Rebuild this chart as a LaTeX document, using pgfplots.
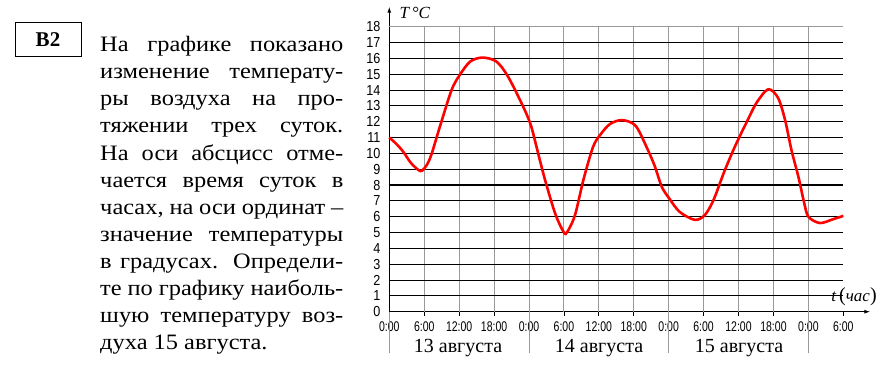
\documentclass[border=0pt]{standalone}
\usepackage{fontspec}
\setmainfont{Liberation Serif}
\newfontfamily\tnr{Liberation Serif}
\newfontfamily\arial{Liberation Sans}
\usepackage{pgfplots}
\pgfplotsset{compat=1.18}
\usetikzlibrary{arrows.meta}
\pgfplotstableread{
h T
0 11.0
1.2 10.6
2.4 10.1
3.7 9.4
5.0 8.95
5.6 8.9
6.5 9.3
7.3 10.0
8.7 11.7
10.7 14.0
12.1 14.95
13.9 15.8
16.0 16.05
18.4 15.8
20.4 14.85
23.0 12.95
24.3 11.8
25.3 10.4
26.7 8.4
28.5 6.2
30.0 5.0
30.6 5.05
31.9 6.1
33.4 8.4
35.0 10.4
36.2 11.15
37.9 11.85
40.0 12.1
42.3 11.75
44.2 10.4
45.6 9.2
46.8 7.9
48.1 7.15
49.9 6.3
52.5 5.8
54.2 6.1
55.7 7.05
57.5 8.8
59.1 10.2
60.3 11.15
61.7 12.2
63.1 13.2
65.1 14.05
66.8 13.5
68.0 12.1
69.1 10.2
70.3 8.5
71.2 7.0
72.0 6.0
74.0 5.6
76.3 5.85
78 6.05
}\temps
\begin{document}
\begin{tikzpicture}[x=1pt,y=1pt]
\useasboundingbox (0,0) rectangle (892,391);
% B2 box
\draw[line width=1pt] (15,334) rectangle (81,368.5);
\node[font=\tnr\fontsize{21}{21}\selectfont\bfseries] at (48,351) {В2};
% paragraph
\node[anchor=base west, inner sep=0pt, xscale=1.11] at (100,339.3) {\vtop{\hsize=219pt
\tnr\fontsize{22}{27.1}\selectfont\baselineskip=27.1pt
\hbox to 219pt{На графике показано}
\hbox to 219pt{изменение температу-}
\hbox to 219pt{ры воздуха на про-}
\hbox to 219pt{тяжении трех суток.}
\hbox to 219pt{На оси абсцисс отме-}
\hbox to 219pt{чается время суток в}
\hbox to 219pt{часах, на оси ординат –}
\hbox to 219pt{значение температуры}
\hbox to 219pt{в градусах. Определи-}
\hbox to 219pt{те по графику наиболь-}
\hbox to 219pt{шую температуру воз-}
\hbox{духа 15 августа.}}};
\begin{axis}[at={(389.3pt,79.3pt)}, anchor=south west, scale only axis,
  width=454pt, height=285pt, xmin=0, xmax=78, ymin=0, ymax=18,
  axis lines=left, clip=false,
  x axis line style={line width=1pt, -{Latex[length=6pt,width=4pt]}, shorten >=-27pt},
  y axis line style={line width=1pt, -{Latex[length=6pt,width=4pt]}, shorten >=-20pt},
  xtick={0,6,...,78},
  xticklabels={0:00,6:00,12:00,18:00,0:00,6:00,12:00,18:00,0:00,6:00,12:00,18:00,0:00,6:00},
  ytick={0,1,...,18},
  tick align=outside, major tick length=4pt,
  xtick style={black, line width=0.8pt},
  ytick style={draw=none},
  /pgf/number format/assume math mode=true,
  xticklabel style={font=\arial\fontsize{14}{14}\selectfont, xscale=0.75, yshift=-2pt},
  yticklabel style={font=\arial\fontsize{14.5}{14.5}\selectfont, xscale=0.87, xshift=-2pt},
]
\pgfplotsinvokeforeach{6,12,...,72}{\draw[gray!80, line width=0.9pt] (axis cs:#1,0) -- (axis cs:#1,18);}
\pgfplotsinvokeforeach{1,2,...,17}{\draw[black, line width=0.9pt] (axis cs:0,#1) -- (axis cs:78,#1);}
\draw[gray!80, line width=0.9pt] (axis cs:0,18) -- (axis cs:78,18);
\draw[black, line width=2pt] (axis cs:0,8) -- (axis cs:78,8);
\pgfplotsinvokeforeach{0,24,48,72}{\draw[gray!80, line width=0.9pt] (axis cs:#1,0) -- ++(0,-41.3pt);}
\addplot[red, line width=2.6pt, smooth, tension=0.5] table[x=h,y=T] {\temps};
\end{axis}
\node[anchor=base west, font=\tnr\itshape\fontsize{17}{17}\selectfont] at (396,372) {T\,°C};
\node[anchor=base, font=\tnr\fontsize{17}{17}\selectfont] at (854,89.3) {\textit{t}\,{\fontsize{20}{20}\selectfont(}\textit{час}{\fontsize{20}{20}\selectfont)}};
\node[anchor=base, font=\tnr\fontsize{20}{20}\selectfont] at (458,38) {13 августа};
\node[anchor=base, font=\tnr\fontsize{20}{20}\selectfont] at (599,38) {14 августа};
\node[anchor=base, font=\tnr\fontsize{20}{20}\selectfont] at (739,38) {15 августа};
\end{tikzpicture}
\end{document}
